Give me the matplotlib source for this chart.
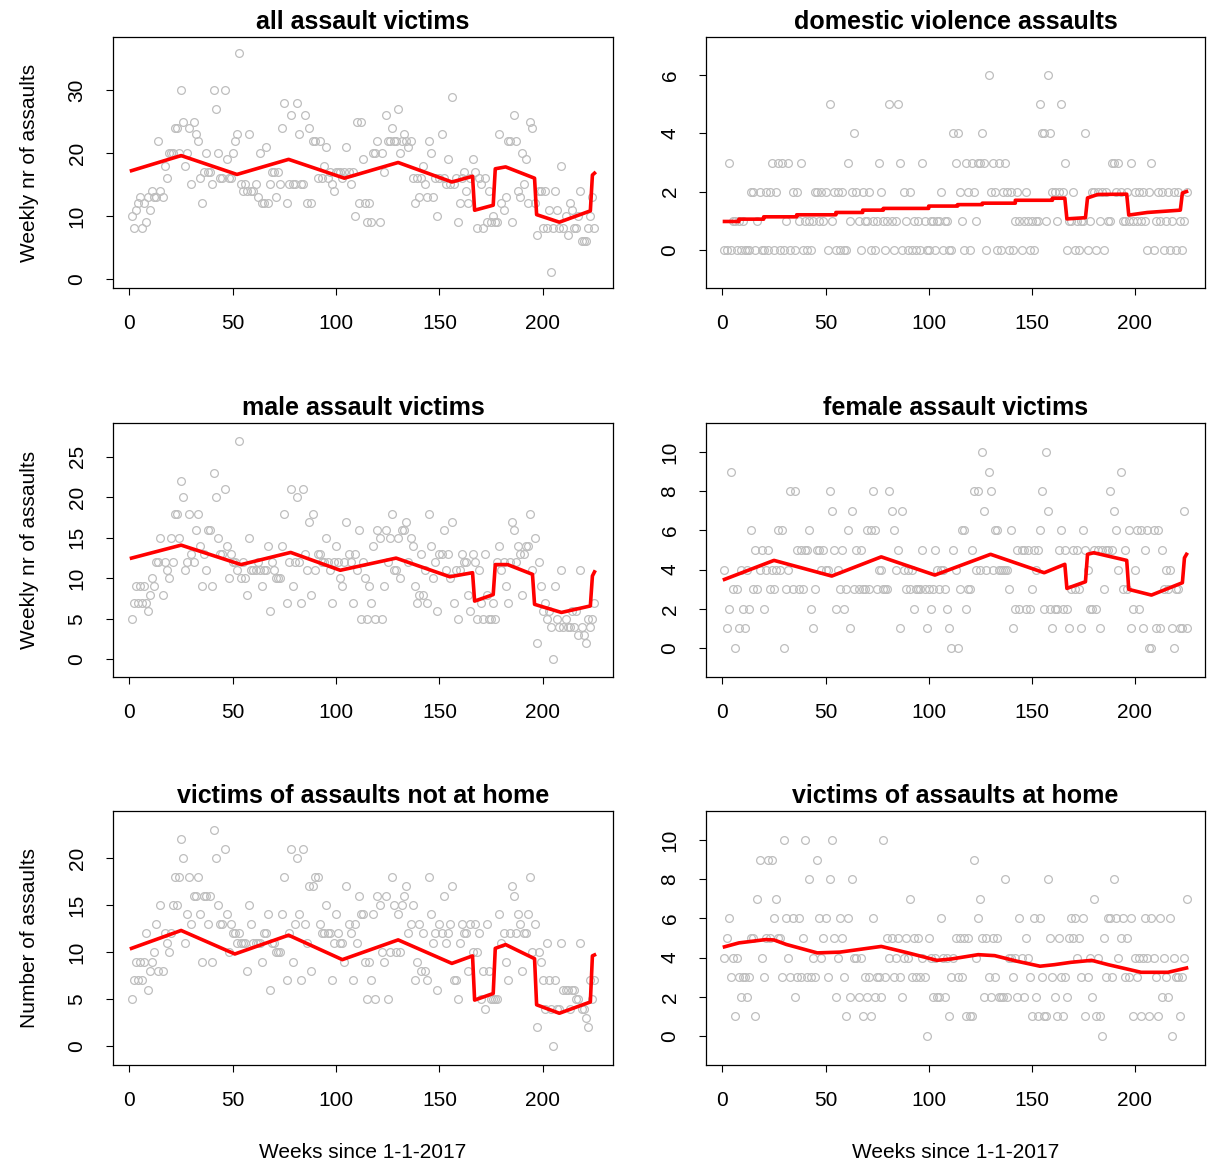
import numpy as np
import matplotlib
matplotlib.use("Agg")
import matplotlib.pyplot as plt

plt.rcParams['font.family'] = ['Liberation Sans', 'DejaVu Sans']

weeks = np.arange(1, 226)

all_vals = [10, 8, 11, 12, 13, 8, 12, 9, 13, 11,
            14, 13, 13, 22, 14, 13, 18, 16, 20, 20,
            20, 24, 24, 20, 30, 25, 18, 20, 24, 15,
            25, 23, 22, 16, 12, 17, 20, 17, 17, 15,
            30, 27, 20, 16, 16, 30, 19, 16, 16, 20,
            22, 23, 36, 15, 14, 15, 14, 23, 14, 14,
            15, 13, 20, 12, 12, 21, 12, 15, 17, 17,
            13, 17, 15, 24, 28, 12, 15, 26, 15, 15,
            28, 23, 15, 15, 26, 12, 24, 12, 22, 22,
            16, 22, 16, 18, 21, 16, 17, 15, 14, 17,
            17, 17, 16, 17, 21, 17, 15, 17, 10, 25,
            12, 25, 19, 12, 9, 12, 9, 20, 20, 22,
            9, 20, 17, 26, 22, 22, 24, 22, 22, 27,
            20, 22, 23, 22, 21, 22, 16, 12, 16, 13,
            16, 18, 15, 13, 22, 20, 13, 16, 10, 16,
            23, 16, 15, 19, 15, 29, 15, 16, 9, 12,
            16, 17, 14, 12, 16, 19, 17, 8, 16, 15,
            8, 16, 9, 14, 9, 10, 9, 9, 23, 12,
            11, 13, 22, 22, 9, 26, 22, 14, 13, 20,
            15, 19, 12, 25, 24, 12, 7, 14, 14, 8,
            14, 8, 11, 1, 8, 14, 11, 8, 18, 8,
            10, 7, 12, 11, 8, 8, 10, 14, 6, 6,
            6, 8, 10, 13, 8]

dv_vals = [0, 0, 3, 0, 1, 1, 0, 1, 0, 1,
           0, 0, 0, 2, 2, 0, 1, 2, 0, 0,
           2, 0, 2, 3, 0, 2, 3, 0, 3, 0,
           1, 3, 0, 2, 0, 2, 1, 3, 0, 1,
           0, 1, 0, 1, 2, 2, 1, 2, 1, 2,
           0, 5, 1, 2, 0, 2, 0, 2, 0, 0,
           3, 1, 2, 4, 2, 1, 0, 2, 1, 1,
           2, 0, 1, 0, 1, 3, 2, 1, 0, 1,
           5, 1, 0, 1, 5, 3, 0, 2, 1, 0,
           2, 0, 1, 0, 1, 0, 3, 1, 0, 0,
           1, 1, 0, 1, 1, 2, 0, 1, 1, 0,
           0, 4, 3, 4, 2, 1, 0, 3, 2, 0,
           3, 2, 1, 3, 3, 4, 3, 0, 6, 2,
           3, 2, 0, 3, 0, 2, 3, 2, 0, 2,
           0, 1, 2, 1, 0, 1, 2, 1, 0, 1,
           0, 1, 1, 5, 4, 4, 1, 6, 4, 2,
           2, 1, 2, 5, 2, 3, 0, 1, 1, 2,
           0, 1, 0, 1, 1, 4, 0, 1, 2, 2,
           0, 2, 1, 2, 0, 2, 1, 1, 3, 3,
           2, 3, 2, 1, 1, 2, 1, 3, 1, 2,
           1, 2, 1, 2, 1, 0, 2, 3, 0, 1,
           2, 1, 2, 0, 1, 2, 0, 1, 2, 0,
           2, 1, 0, 1, 2]

male_vals = [5, 7, 9, 7, 9, 7, 9, 7, 6, 8,
             10, 9, 12, 12, 15, 8, 12, 11, 10, 15,
             12, 18, 18, 15, 22, 20, 11, 12, 18, 13,
             12, 16, 18, 14, 9, 13, 11, 16, 16, 9,
             23, 20, 15, 13, 13, 21, 14, 10, 13, 12,
             12, 11, 27, 10, 12, 10, 8, 15, 11, 11,
             11, 12, 11, 9, 11, 11, 14, 6, 12, 11,
             10, 10, 10, 14, 18, 7, 12, 21, 9, 12,
             20, 12, 7, 21, 13, 11, 17, 8, 18, 11,
             13, 13, 12, 12, 15, 12, 11, 7, 12, 14,
             12, 10, 9, 12, 17, 13, 12, 7, 13, 11,
             16, 5, 12, 10, 5, 9, 7, 14, 5, 16,
             15, 5, 9, 16, 12, 15, 18, 11, 11, 15,
             10, 16, 16, 17, 12, 15, 14, 9, 7, 8,
             13, 8, 11, 7, 18, 14, 10, 12, 6, 13,
             13, 16, 11, 13, 10, 17, 7, 11, 5, 11,
             13, 12, 12, 8, 6, 13, 12, 5, 11, 7,
             5, 13, 8, 5, 5, 7, 5, 12, 14, 11,
             12, 9, 7, 12, 17, 16, 12, 14, 13, 8,
             13, 14, 14, 18, 11, 15, 2, 12, 9, 6,
             7, 5, 6, 4, 0, 9, 5, 4, 11, 4,
             5, 4, 4, 6, 4, 6, 3, 11, 4, 3,
             2, 5, 4, 5, 7]

female_vals = [4, 1, 2, 9, 3, 0, 3, 1, 4, 2,
               1, 4, 2, 6, 3, 5, 3, 4, 5, 2,
               4, 5, 3, 4, 3, 4, 6, 4, 6, 0,
               3, 4, 8, 3, 8, 5, 3, 5, 3, 5,
               5, 6, 2, 1, 3, 5, 5, 4, 5, 4,
               4, 8, 7, 5, 2, 4, 3, 5, 2, 3,
               6, 1, 7, 3, 5, 3, 5, 3, 3, 6,
               3, 6, 8, 6, 3, 4, 4, 3, 3, 3,
               8, 7, 6, 4, 5, 1, 7, 4, 3, 4,
               3, 4, 2, 3, 3, 3, 5, 3, 1, 3,
               2, 3, 5, 4, 3, 4, 4, 3, 2, 1,
               0, 5, 4, 0, 3, 6, 6, 2, 3, 3,
               5, 8, 4, 8, 4, 10, 7, 4, 9, 8,
               4, 6, 6, 4, 4, 4, 4, 4, 3, 6,
               1, 2, 5, 2, 5, 5, 2, 5, 2, 3,
               5, 4, 5, 6, 8, 2, 10, 7, 2, 1,
               2, 2, 5, 6, 2, 5, 2, 1, 3, 5,
               3, 5, 3, 1, 6, 5, 4, 2, 2, 5,
               2, 5, 1, 5, 3, 5, 5, 8, 5, 7,
               6, 4, 9, 3, 5, 3, 6, 1, 2, 4,
               6, 2, 6, 1, 5, 6, 0, 0, 6, 1,
               6, 1, 5, 3, 4, 3, 4, 1, 0, 3,
               3, 1, 1, 7, 1]

nothome_vals = [5, 7, 9, 7, 9, 7, 9, 12, 6, 8,
                9, 10, 13, 8, 15, 8, 12, 11, 10, 12,
                15, 18, 15, 18, 22, 20, 11, 14, 18, 13,
                16, 16, 18, 14, 9, 16, 16, 13, 16, 9,
                23, 20, 15, 13, 13, 21, 14, 10, 13, 12,
                12, 11, 12, 11, 11, 11, 8, 15, 13, 11,
                11, 11, 11, 9, 12, 12, 14, 6, 11, 11,
                10, 10, 10, 14, 18, 7, 12, 21, 9, 13,
                20, 14, 7, 21, 13, 11, 17, 8, 17, 18,
                18, 13, 12, 12, 15, 12, 12, 7, 11, 14,
                12, 11, 11, 9, 17, 13, 12, 7, 13, 11,
                16, 14, 14, 9, 5, 9, 7, 14, 5, 16,
                15, 10, 9, 16, 5, 10, 18, 15, 10, 14,
                10, 15, 16, 17, 12, 13, 15, 7, 9, 13,
                8, 12, 8, 7, 18, 14, 11, 12, 6, 13,
                12, 16, 11, 12, 13, 17, 7, 7, 5, 11,
                13, 12, 12, 8, 13, 10, 13, 10, 12, 5,
                8, 4, 13, 8, 5, 5, 5, 5, 14, 11,
                12, 9, 7, 12, 17, 16, 12, 14, 13, 8,
                12, 12, 14, 18, 10, 13, 2, 10, 9, 7,
                4, 11, 7, 4, 0, 7, 4, 4, 11, 6,
                6, 6, 4, 6, 6, 5, 5, 11, 4, 4,
                3, 2, 7, 5, 7]

home_vals = [4, 5, 6, 3, 4, 1, 4, 3, 2, 3,
             3, 2, 3, 5, 5, 1, 7, 9, 4, 3,
             5, 9, 5, 9, 6, 7, 5, 5, 3, 10,
             6, 4, 3, 6, 2, 3, 6, 3, 5, 10,
             3, 8, 3, 4, 3, 9, 6, 4, 5, 6,
             3, 8, 10, 5, 2, 4, 6, 5, 3, 1,
             6, 2, 8, 4, 4, 2, 4, 1, 3, 2,
             3, 1, 6, 2, 3, 3, 2, 10, 3, 5,
             4, 5, 3, 4, 5, 3, 2, 4, 5, 4,
             7, 3, 5, 3, 5, 3, 4, 3, 0, 5,
             4, 2, 4, 2, 2, 6, 4, 2, 4, 1,
             3, 4, 5, 3, 5, 3, 5, 1, 5, 1,
             1, 9, 4, 6, 7, 5, 2, 5, 3, 2,
             5, 3, 5, 2, 2, 2, 8, 2, 4, 4,
             3, 4, 2, 6, 4, 2, 5, 4, 3, 1,
             6, 2, 1, 6, 3, 1, 1, 8, 5, 3,
             2, 1, 5, 3, 1, 3, 2, 5, 6, 5,
             6, 4, 5, 3, 6, 1, 3, 4, 2, 7,
             1, 4, 1, 0, 5, 3, 6, 6, 3, 8,
             6, 4, 5, 6, 3, 5, 3, 6, 1, 4,
             3, 4, 1, 4, 6, 4, 1, 6, 4, 3,
             1, 6, 2, 4, 3, 2, 6, 0, 4, 3,
             3, 1, 3, 4, 7]

# fitted model values (red lines), knot weeks and values
all_fit_x = [1, 25, 52, 77, 104, 130, 156, 166, 167, 176, 177, 182, 196, 197, 208, 223, 224, 225]
all_fit_y = [17.2, 19.6, 16.6, 19.0, 16.0, 18.5, 15.4, 16.3, 10.9, 11.7, 17.5, 17.8, 16.0, 10.2, 9.0, 10.8, 16.5, 16.8]

dv_fit_x = [1, 8, 8, 20, 20, 36, 36, 55, 55, 68, 68, 78, 78, 100, 100, 114, 114, 126, 126,
            142, 142, 160, 160, 166, 167, 176, 177, 182, 196, 197, 206, 222, 223, 225]
dv_fit_y = [0.97, 0.97, 1.05, 1.05, 1.13, 1.13, 1.2, 1.2, 1.28, 1.28, 1.36, 1.36, 1.42, 1.42,
            1.5, 1.5, 1.55, 1.55, 1.6, 1.6, 1.7, 1.7, 1.77, 1.77, 1.06, 1.1, 1.78, 1.9, 1.91,
            1.19, 1.28, 1.36, 1.95, 2.0]

male_fit_x = [1, 25, 54, 78, 102, 129, 155, 166, 167, 176, 177, 183, 195, 196, 209, 223, 224, 225]
male_fit_y = [12.5, 14.1, 11.7, 13.2, 11.0, 12.5, 10.2, 10.7, 7.2, 8.0, 11.7, 11.7, 10.5, 6.8, 5.8, 6.6, 10.3, 10.8]

female_fit_x = [1, 25, 53, 77, 103, 130, 156, 166, 167, 176, 177, 180, 196, 197, 208, 223, 224, 225]
female_fit_y = [3.5, 4.47, 3.67, 4.65, 3.72, 4.78, 3.84, 4.27, 3.04, 3.38, 4.78, 4.86, 4.47, 2.99, 2.7, 3.33, 4.6, 4.78]

nothome_fit_x = [1, 25, 51, 77, 103, 130, 156, 166, 167, 176, 177, 182, 196, 197, 208, 223, 224, 225]
nothome_fit_y = [10.4, 12.3, 9.8, 11.8, 9.2, 11.3, 8.8, 9.6, 4.9, 5.6, 10.4, 10.8, 9.3, 4.4, 3.5, 4.7, 9.6, 9.7]

home_fit_x = [1, 8, 21, 25, 31, 46, 57, 77, 90, 104, 111, 124, 132, 143, 154, 161, 169, 179, 187, 203, 216, 225]
home_fit_y = [4.55, 4.75, 4.92, 4.9, 4.67, 4.24, 4.28, 4.57, 4.24, 3.86, 3.93, 4.15, 4.1, 3.81, 3.56, 3.64, 3.76, 3.86, 3.64, 3.25, 3.25, 3.47]

titles = ["all assault victims", "domestic violence assaults",
          "male assault victims", "female assault victims",
          "victims of assaults not at home", "victims of assaults at home"]
ylabels = ["Weekly nr of assaults", None, "Weekly nr of assaults", None, "Number of assaults", None]
xlabel = "Weeks since 1-1-2017"
xticks = [0, 50, 100, 150, 200]
yticks = [[0, 10, 20, 30], [0, 2, 4, 6], [0, 5, 10, 15, 20, 25],
          [0, 2, 4, 6, 8, 10], [0, 5, 10, 15, 20], [0, 2, 4, 6, 8, 10]]

series = [all_vals, dv_vals, male_vals, female_vals, nothome_vals, home_vals]
fits = [(all_fit_x, all_fit_y), (dv_fit_x, dv_fit_y), (male_fit_x, male_fit_y),
        (female_fit_x, female_fit_y), (nothome_fit_x, nothome_fit_y), (home_fit_x, home_fit_y)]

for s in series:
    assert len(s) == 225, len(s)

W, H = 1210, 1163
fig = plt.figure(figsize=(W / 100, H / 100), dpi=100)

col_l = [113, 706]
col_w = [500, 499]
row_tb = [(37, 288), (423, 677), (811, 1065)]

BASE = 15
for i in range(6):
    r, c = divmod(i, 2)
    top, bot = row_tb[r]
    ax = fig.add_axes([col_l[c] / W, 1 - bot / H, col_w[c] / W, (bot - top) / H])
    vals = np.array(series[i])
    ax.plot(weeks, vals, 'o', mfc='none', mec='#BEBEBE', ms=5.6, mew=0.9, zorder=2)
    fx, fy = fits[i]
    ax.plot(fx, fy, color='red', lw=2.6, zorder=3, solid_joinstyle='round')
    # R style limits: (min-1, max+1) expanded by 4%
    lo, hi = vals.min() - 1, vals.max() + 1
    d = hi - lo
    ax.set_ylim(lo - 0.04 * d, hi + 0.04 * d)
    xd = weeks.max() - weeks.min()
    ax.set_xlim(weeks.min() - 0.04 * xd, weeks.max() + 0.04 * xd)
    ax.set_xticks(xticks)
    ax.set_yticks(yticks[i])
    ax.set_yticklabels([str(t) for t in yticks[i]], rotation=90, va='center')
    ax.tick_params(direction='out', length=5, width=0.8, labelsize=BASE, pad=14, colors='black')
    for sp in ax.spines.values():
        sp.set_linewidth(0.9)
        sp.set_color('black')
    ax.set_title(titles[i], fontsize=BASE * 1.2, fontweight='bold', pad=6)
    if ylabels[i]:
        ax.set_ylabel(ylabels[i], fontsize=BASE, va='center')
        ax.yaxis.set_label_coords(-0.166, 0.5)
    if r == 2:
        ax.set_xlabel(xlabel, fontsize=BASE, va='center')
        ax.xaxis.set_label_coords(0.5, -(1152 - bot) / (bot - top))

fig.savefig("out.png", dpi=100)
